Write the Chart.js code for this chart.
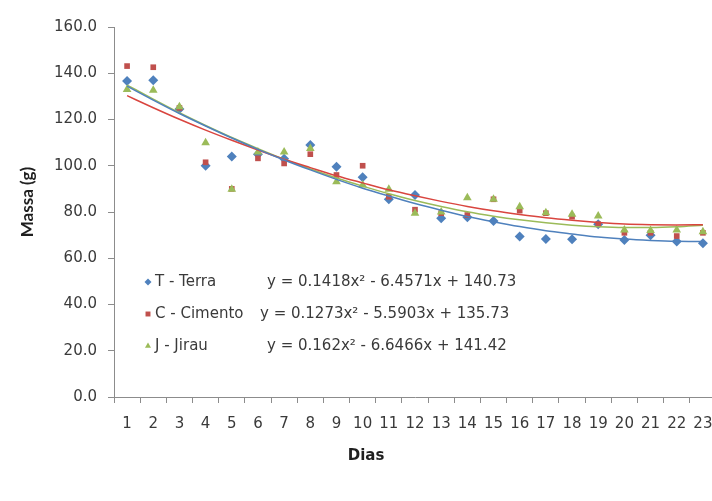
<!DOCTYPE html>
<html>
<head>
<meta charset="utf-8">
<script src="https://cdn.jsdelivr.net/npm/chart.js@4.4.1/dist/chart.umd.min.js"></script>
<style>
  body { margin: 0; background: #fff; overflow: hidden; width: 712px; height: 501px; }
  #wrap { width: 721px; height: 501px; }
</style>
</head>
<body>
<div id="wrap"><canvas id="massChart"></canvas></div>
<script>
const days = ["1", "2", "3", "4", "5", "6", "7", "8", "9", "10", "11", "12",
  "13", "14", "15", "16", "17", "18", "19", "20", "21", "22", "23"];

// measured mass (g)
const terra = [136.6, 137.0, 124.5, 100.0, 104.0, 105.0, 103.0, 109.0, 99.6, 95.0, 85.5, 87.4,
  77.3, 77.7, 76.1, 69.4, 68.3, 68.2, 74.7, 67.9, 70.0, 67.2, 66.5];
const cimento = [143.1, 142.6, 125.0, 101.5, 90.0, 103.2, 101.0, 105.0, 96.0, 100.0, 86.6, 81.0,
  79.5, 78.7, 85.5, 80.6, 79.5, 78.0, 74.7, 71.0, 71.0, 69.6, 71.0];
const jirau = [133.0, 132.6, 125.5, 110.0, 89.8, 106.0, 106.0, 107.5, 93.1, 91.7, 89.8, 79.5,
  80.0, 86.2, 85.5, 82.3, 79.7, 79.0, 78.3, 72.2, 72.0, 72.2, 71.5];

// trend lines
const terraTrend = [134.4, 128.4, 122.6, 117.2, 112.0, 107.1, 102.5, 98.2, 94.1, 90.3, 86.9, 83.7,
  80.8, 78.1, 75.8, 73.7, 71.9, 70.5, 69.2, 68.3, 67.7, 67.3, 67.2];
const cimentoTrend = [130.3, 125.1, 120.1, 115.4, 111.0, 106.8, 102.8, 99.2, 95.7, 92.6, 89.6, 87.0,
  84.6, 82.4, 80.5, 78.9, 77.5, 76.4, 75.5, 74.8, 74.5, 74.4, 74.5];
const jirauTrend = [134.9, 128.8, 122.9, 117.4, 112.2, 107.4, 102.8, 98.6, 94.7, 91.2, 87.9, 85.0,
  82.4, 80.1, 78.2, 76.6, 75.3, 74.3, 73.6, 73.3, 73.3, 73.6, 74.3];

const legendRows = [
  { label: "T - Terra", eq: "y = 0.1418x² - 6.4571x + 140.73", color: "#4F81BD", style: "rectRot" },
  { label: "C - Cimento", eq: "y = 0.1273x² - 5.5903x + 135.73", color: "#C0504D", style: "rect" },
  { label: "J - Jirau", eq: "y = 0.162x² - 6.6466x + 141.42", color: "#9BBB59", style: "triangle" }
];

const textColor = "#3a3a3a";
const axisColor = "#8c8c8c";

const overlayText = {
  id: "overlayText",
  afterDraw(chart) {
    const ctx = chart.ctx;
    ctx.save();
    ctx.fillStyle = "#1f1f1f";
    ctx.textAlign = "center";
    ctx.textBaseline = "middle";
    ctx.font = "bold 15px 'DejaVu Sans'";
    ctx.fillText("Dias", 366, 456);
    ctx.translate(28, 202);
    ctx.rotate(-Math.PI / 2);
    ctx.font = "bold 17px Lato";
    ctx.fillText("Massa (g)", 0, 0);
    ctx.restore();

    ctx.save();
    ctx.textBaseline = "middle";
    ctx.textAlign = "left";
    ctx.font = "15px 'DejaVu Sans'";
    const rowY = [282, 314, 346];
    const eqX = [267, 260, 267];
    legendRows.forEach((row, i) => {
      ctx.fillStyle = row.color;
      Chart.helpers.drawPoint(ctx, { pointStyle: row.style, radius: 3.5, rotation: 0, borderWidth: 0 }, 148, rowY[i]);
      ctx.fillStyle = textColor;
      ctx.fillText(row.label, 155, rowY[i]);
      ctx.fillText(row.eq, eqX[i], rowY[i]);
    });
    ctx.restore();
  }
};

function pointSet(label, data, color, style, order) {
  return {
    label, data, order,
    showLine: false,
    pointStyle: style,
    pointRadius: style === "rect" ? 4 : 5,
    pointBackgroundColor: color,
    pointBorderColor: color,
    pointBorderWidth: 0
  };
}

function trendSet(label, data, color) {
  return {
    label, data, order: 0,
    borderColor: color,
    borderWidth: 1.5,
    pointRadius: 0,
    cubicInterpolationMode: "monotone",
    fill: false
  };
}

const ctx = document.getElementById("massChart").getContext("2d");
new Chart(ctx, {
  type: "line",
  data: {
    labels: days,
    datasets: [
      pointSet("T - Terra", terra, "#4F81BD", "rectRot", 3),
      pointSet("C - Cimento", cimento, "#C0504D", "rect", 2),
      pointSet("J - Jirau", jirau, "#9BBB59", "triangle", 1),
      trendSet("Tend. T", terraTrend, "#4F81BD"),
      trendSet("Tend. C", cimentoTrend, "#D9453F"),
      trendSet("Tend. J", jirauTrend, "#9BBB59")
    ]
  },
  options: {
    responsive: true,
    maintainAspectRatio: false,
    animation: false,
    layout: { padding: { top: 27, left: 0, right: 0, bottom: 0 } },
    plugins: {
      legend: { display: false },
      tooltip: { enabled: false }
    },
    scales: {
      x: {
        offset: true,
        afterFit: s => { s.height = 104; },
        grid: { offset: true, drawOnChartArea: false, drawTicks: true, tickLength: 6, color: axisColor },
        border: { color: axisColor, width: 1 },
        ticks: {
          color: textColor,
          font: { family: "DejaVu Sans", size: 15, lineHeight: 2.4 },
          padding: 3,
          maxRotation: 0,
          autoSkip: false
        }
      },
      y: {
        min: 0,
        max: 160,
        afterFit: s => { s.width = 114; },
        grid: { drawOnChartArea: false, drawTicks: true, tickLength: 6, color: axisColor },
        border: { color: axisColor, width: 1 },
        ticks: {
          stepSize: 20,
          color: textColor,
          font: { family: "DejaVu Sans", size: 15 },
          padding: 11,
          callback: v => v.toFixed(1)
        }
      }
    }
  },
  plugins: [overlayText]
});
</script>
</body>
</html>
